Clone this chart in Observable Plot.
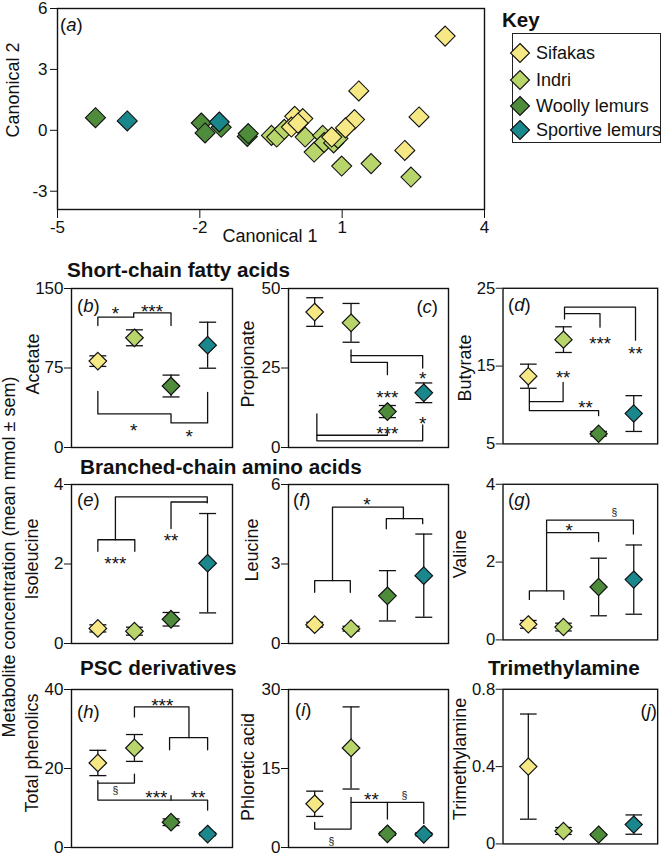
<!DOCTYPE html>
<html>
<head>
<meta charset="utf-8">
<script src="https://cdn.jsdelivr.net/npm/d3@7"></script>
<script src="https://cdn.jsdelivr.net/npm/@observablehq/plot@0.6"></script>
<style>
html,body{margin:0;padding:0;background:#fff;}
#root{position:relative;width:665px;height:854px;overflow:hidden;font-family:"Liberation Sans",Arial,Helvetica,sans-serif;color:#111;}
.t{position:absolute;white-space:nowrap;line-height:1;}
.holder{position:absolute;}
.holder svg{display:block;}
</style>
</head>
<body>
<div id="root"></div>
<script>
// ---------------- DATA ----------------
const species = ["Sifakas", "Indri", "Woolly lemurs", "Sportive lemurs"];
const speciesColors = ["#F7E886", "#B8D56B", "#4E8B3B", "#1A878D"];

// Panel (a): canonical scores [Canonical 1, Canonical 2]
const cdaWoolly = [[-4.20, 0.62], [-1.97, 0.36], [-1.89, -0.13], [-1.55, 0.15], [-1.00, -0.30], [-0.98, -0.16]];
const cdaSportive = [[-3.53, 0.46], [-1.59, 0.41]];
const cdaIndri = [[-0.49, -0.25], [-0.38, -0.33], [-0.22, 0.05], [0.22, -0.33], [0.41, -1.07], [0.59, -0.25],
                  [0.62, -0.60], [0.82, -0.62], [0.91, -0.40], [0.99, -1.76], [1.61, -1.64], [2.45, -2.30]];
const cdaSifakas = [[3.17, 4.64], [1.35, 1.94], [2.62, 0.66], [2.32, -0.99], [1.26, 0.53], [1.07, 0.12],
                    [0.00, 0.69], [-0.07, 0.16], [0.17, 0.58], [0.07, 0.35], [0.78, -0.33]];
const canon1Ticks = [-5, -2, 1, 4];
const canon2Ticks = [-3, 0, 3, 6];

// Metabolites: mean and sem in order Sifakas, Indri, Woolly, Sportive
const acetateMean = [81.5, 103.5, 58, 96.5];      const acetateSem = [5, 7.5, 10.3, 21.7];      const acetateTicks = [0, 75, 150];
const propionateMean = [42.6, 39.2, 11.3, 17.2];  const propionateSem = [4.5, 6.1, 1.9, 3.1];   const propionateTicks = [0, 25, 50];
const butyrateMean = [13.7, 18.4, 6.3, 8.9];      const butyrateSem = [1.55, 1.65, 0.3, 2.3];   const butyrateTicks = [5, 15, 25];
const isoleucineMean = [0.38, 0.31, 0.61, 2.02];  const isoleucineSem = [0.09, 0.1, 0.17, 1.25]; const isoleucineTicks = [0, 2, 4];
const leucineMean = [0.71, 0.56, 1.8, 2.56];      const leucineSem = [0.09, 0.09, 0.95, 1.57];  const leucineTicks = [0, 3, 6];
const valineMean = [0.4, 0.33, 1.36, 1.55];       const valineSem = [0.1, 0.1, 0.74, 0.89];     const valineTicks = [0, 2, 4];
const phenolicsMean = [21.4, 25.2, 6.4, 3.4];     const phenolicsSem = [3.2, 3.4, 0.85, 0.4];   const phenolicsTicks = [0, 20, 40];
const phloreticMean = [8.3, 18.9, 2.6, 2.5];      const phloreticSem = [2.4, 7.8, 0.3, 0.3];    const phloreticTicks = [0, 15, 30];
const tmaMean = [0.40, 0.067, 0.048, 0.10];       const tmaSem = [0.272, 0.018, 0.005, 0.05];   const tmaTicks = [0, 0.4, 0.8];

// Significance brackets: polylines in (group index, value) units, and their labels
const acetateBrackets = [[[0,115],[0,123],[0.98,123]], [[0.98,123],[0.98,127],[2,127],[2,115]],
                         [[0,53],[0,31.7],[2,31.7],[2,23.2],[3,23.2],[3,52]]];
const acetateSig = [[0.48,131,"*"], [1.48,132.6,"***"], [0.98,20.6,"*"], [2.5,14.3,"*"]];
const propionateBrackets = [[[1,30.7],[1,26.8],[2,26.8],[2,22.9]], [[1,28.9],[2.97,28.9],[2.97,25]],
                            [[0.06,10.6],[0.06,2.1],[2.97,2.1],[2.97,7.1]], [[0.06,3.85],[2,3.85],[2,4.7]]];
const propionateSig = [[2,17.2,"***"], [2.97,23.1,"*"], [2,5.7,"***"], [2.97,8.85,"*"]];
const butyrateBrackets = [[[1.03,21.04],[1.03,22.58],[3.05,22.58],[3.05,18.33]], [[1.03,21.75],[2.04,21.75],[2.04,20]],
                          [[0.03,12.08],[0.03,9.29],[2,9.29],[2,8.63]], [[0.03,10.42],[0.99,10.42],[0.99,12.92]]];
const butyrateSig = [[2.04,18.46,"***"], [3.05,17.1,"**"], [0.99,14.04,"**"], [1.63,10.2,"**"]];
const isoleucineBrackets = [[[0,2.32],[0,2.61],[1.01,2.61],[1.01,2.32]], [[0.48,2.61],[0.48,3.69],[2.99,3.69],[2.99,3.54]],
                            [[2,2.89],[2,3.56],[2.99,3.56]]];
const isoleucineSig = [[0.48,2.13,"***"], [2,2.69,"**"]];
const leucineBrackets = [[[0,1.93],[0,2.37],[0.98,2.37],[0.98,1.93]], [[0.49,2.37],[0.49,5.15],[2.44,5.15],[2.44,4.71]],
                         [[1.97,4.33],[1.97,4.71],[2.97,4.71],[2.97,4.52]]];
const leucineSig = [[1.44,5.4,"*"]];
const valineBrackets = [[[0.03,1.04],[0.03,1.26],[1.01,1.26],[1.01,1.04]], [[0.52,1.26],[0.52,3.08],[2.99,3.08],[2.99,2.72]],
                        [[0.52,2.76],[2,2.76],[2,2.53]]];
const valineSig = [[1.16,2.93,"*"], [2.45,3.27,"§"]];
const phenolicsBrackets = [[[1,33.05],[1,35.6],[2.49,35.6],[2.49,27.8]], [[1.96,24.75],[1.96,27.8],[3,27.8],[3,24.75]],
                           [[0,16.9],[0,12],[3,12],[3,9.5]], [[0,16.3],[1,16.3],[1,18.6]], [[2,12],[2,13.1]]];
const phenolicsSig = [[1.76,37,"***"], [0.48,14.4,"§"], [1.6,13.7,"***"], [2.74,13.7,"**"]];
const phloreticBrackets = [[[0,4.77],[0,3.5],[1,3.5],[1,9.5]], [[1,8.58],[3,8.58],[3,4.58]], [[2,8.58],[2,5.4]]];
const phloreticSig = [[1.56,10,"**"], [2.47,9.85,"§"], [0.46,1.27,"§"]];
const tmaBrackets = [];
const tmaSig = [];

// ---------------- DRAWING ----------------
const FONT = '"Liberation Sans", Arial, Helvetica, sans-serif';
const INK = "#111";
const root = document.getElementById("root");

const diamondSym = {draw(ctx, size) { const r = Math.sqrt(size / Math.PI);
  ctx.moveTo(0, -r); ctx.lineTo(r, 0); ctx.lineTo(0, r); ctx.lineTo(-r, 0); ctx.closePath(); }};
const capSym = {draw(ctx, size) { const r = Math.sqrt(size / Math.PI);
  ctx.moveTo(-r, 0); ctx.lineTo(r, 0); }};

function text(html, x, y, opt = {}) {
  const {size = 18, bold = false, anchor = "start", rotate = false, lh = 1} = opt;
  const d = document.createElement("div");
  d.className = "t"; d.innerHTML = html;
  d.style.left = x + "px"; d.style.top = y + "px"; d.style.fontSize = size + "px";
  d.style.lineHeight = String(lh);
  if (bold) d.style.fontWeight = "bold";
  const tx = anchor === "start" ? "0" : anchor === "middle" ? "-50%" : "-100%";
  d.style.transform = rotate ? "translate(-50%,-50%) rotate(-90deg)" : `translate(${tx},-50%)`;
  root.appendChild(d);
}
function place(svg, left, top) {
  const h = document.createElement("div");
  h.className = "holder"; h.style.left = left + "px"; h.style.top = top + "px";
  h.appendChild(svg); root.appendChild(h);
}
const plotStyle = {background: "transparent", overflow: "visible", fontFamily: FONT, fontSize: "17px", color: INK};

// Panel (a)
const groups = [[cdaWoolly, 2], [cdaSportive, 3], [cdaIndri, 1], [cdaSifakas, 0]];
const scatter = groups.flatMap(([arr, k]) => arr.map(([c1, c2]) => ({c1, c2, fill: speciesColors[k]})));
const plotA = Plot.plot({
  width: 490, height: 245, marginLeft: 57, marginRight: 6, marginTop: 8, marginBottom: 36,
  style: plotStyle,
  x: {domain: [-5, 4], ticks: canon1Ticks, tickSize: 9, tickPadding: 2, tickFormat: d => String(d), label: null},
  y: {domain: [-3.9, 6], ticks: canon2Ticks, tickSize: 7, tickPadding: 3, tickFormat: d => String(d), label: null},
  color: {type: "identity"},
  marks: [
    Plot.dot(scatter, {x: "c1", y: "c2", fill: "fill", symbol: diamondSym, r: 10, stroke: INK, strokeWidth: 1.1}),
    Plot.frame({stroke: INK, strokeWidth: 1.4})
  ]
});
place(plotA, 0, 0);
text("(<i>a</i>)", 60, 25, {size: 18.5});
text("Canonical 1", 270, 236, {size: 18, anchor: "middle"});
text("Canonical 2", 12.5, 90, {size: 18, rotate: true});

// Key
const keyBox = document.createElement("div");
keyBox.style.cssText = "position:absolute;left:512px;top:33px;width:149px;height:110px;border:1.5px solid #222;box-sizing:border-box;";
root.appendChild(keyBox);
text("Key", 502, 20, {size: 20.5, bold: true});
const keyRows = [52.5, 79.5, 105.5, 130];
species.forEach((s, i) => {
  const svg = d3.create("svg").attr("width", 24).attr("height", 24)
    .style("position", "absolute").style("left", (519.5 - 12) + "px").style("top", (keyRows[i] - 12) + "px");
  const p = d3.path(); diamondSym.draw(p, Math.PI * 9.5 * 9.5);
  svg.append("path").attr("d", p.toString()).attr("transform", "translate(12,12)")
    .attr("fill", speciesColors[i]).attr("stroke", INK).attr("stroke-width", 1.1);
  root.appendChild(svg.node());
  text(s, 536, keyRows[i], {size: 18});
});

// Metabolite panels
const colX = [[71, 232], [288, 448], [504, 662]];
const rowY = [[288, 447], [484, 643], [689, 847]];
const panels = [
  {tag: "b", col: 0, row: 0, mean: acetateMean, sem: acetateSem, ticks: acetateTicks, brackets: acetateBrackets, sig: acetateSig, label: "Acetate", lx: 33, ly: 364, tx: 77, ty: 306},
  {tag: "c", col: 1, row: 0, mean: propionateMean, sem: propionateSem, ticks: propionateTicks, brackets: propionateBrackets, sig: propionateSig, label: "Propionate", lx: 248, ly: 364, tx: 438, ty: 307, right: true},
  {tag: "d", col: 2, row: 0, mean: butyrateMean, sem: butyrateSem, ticks: butyrateTicks, brackets: butyrateBrackets, sig: butyrateSig, label: "Butyrate", lx: 465, ly: 368, tx: 508, ty: 305},
  {tag: "e", col: 0, row: 1, mean: isoleucineMean, sem: isoleucineSem, ticks: isoleucineTicks, brackets: isoleucineBrackets, sig: isoleucineSig, label: "Isoleucine", lx: 32, ly: 559, tx: 77, ty: 500},
  {tag: "f", col: 1, row: 1, mean: leucineMean, sem: leucineSem, ticks: leucineTicks, brackets: leucineBrackets, sig: leucineSig, label: "Leucine", lx: 252, ly: 550, tx: 293, ty: 500},
  {tag: "g", col: 2, row: 1, mean: valineMean, sem: valineSem, ticks: valineTicks, brackets: valineBrackets, sig: valineSig, label: "Valine", lx: 460, ly: 554, tx: 508, ty: 500},
  {tag: "h", col: 0, row: 2, mean: phenolicsMean, sem: phenolicsSem, ticks: phenolicsTicks, brackets: phenolicsBrackets, sig: phenolicsSig, label: "Total phenolics", lx: 32, ly: 753, tx: 77, ty: 712},
  {tag: "i", col: 1, row: 2, mean: phloreticMean, sem: phloreticSem, ticks: phloreticTicks, brackets: phloreticBrackets, sig: phloreticSig, label: "Phloretic acid", lx: 248, ly: 767, tx: 295, ty: 710},
  {tag: "j", col: 2, row: 2, mean: tmaMean, sem: tmaSem, ticks: tmaTicks, brackets: tmaBrackets, sig: tmaSig, label: "Trimethylamine", lx: 460, ly: 759, tx: 657, ty: 711, right: true}
];

panels.forEach(p => {
  const [x0, x1] = colX[p.col], [y0, y1] = rowY[p.row];
  const mL = 70, mR = 8, mT = 10, mB = 10;
  const rows = p.mean.map((m, i) => ({i, m, lo: m - p.sem[i], hi: m + p.sem[i], fill: speciesColors[i]}));
  const lines = p.brackets.flatMap((pts, k) => pts.map(([x, y]) => ({k, x, y})));
  const stars = p.sig.filter(s => s[2] !== "§").map(([x, y, t]) => ({x, y, t}));
  const sects = p.sig.filter(s => s[2] === "§").map(([x, y, t]) => ({x, y, t}));
  const svg = Plot.plot({
    width: (x1 - x0) + mL + mR, height: (y1 - y0) + mT + mB,
    marginLeft: mL, marginRight: mR, marginTop: mT, marginBottom: mB,
    style: plotStyle,
    x: {domain: [-0.72, 3.68], axis: null},
    y: {domain: [p.ticks[0], p.ticks[p.ticks.length - 1]], ticks: p.ticks, tickSize: 7, tickPadding: 1, tickFormat: d => String(d), label: null},
    color: {type: "identity"},
    marks: [
      Plot.line(lines, {x: "x", y: "y", z: "k", stroke: INK, strokeWidth: 1.3}),
      Plot.ruleX(rows, {x: "i", y1: "lo", y2: "hi", stroke: INK, strokeWidth: 1.3}),
      Plot.dot(rows, {x: "i", y: "lo", symbol: capSym, r: 8.5, fill: "none", stroke: INK, strokeWidth: 1.3}),
      Plot.dot(rows, {x: "i", y: "hi", symbol: capSym, r: 8.5, fill: "none", stroke: INK, strokeWidth: 1.3}),
      Plot.dot(rows, {x: "i", y: "m", symbol: diamondSym, r: 8.8, fill: "fill", stroke: INK, strokeWidth: 1.2}),
      Plot.text(stars, {x: "x", y: "y", text: "t", fontSize: 19, dy: 4.8, fill: INK}),
      Plot.text(sects, {x: "x", y: "y", text: "t", fontSize: 10.5, dy: 0.5, fill: INK}),
      Plot.frame({stroke: INK, strokeWidth: 1.4})
    ]
  });
  place(svg, x0 - mL, y0 - mT);
  text(p.label, p.lx, p.ly, {size: 18, rotate: true});
  text(`(<i>${p.tag}</i>)`, p.tx, p.ty, {size: 18.5, anchor: p.right ? "end" : "start"});
});

// Section titles and shared axis title
text("Short-chain fatty acids", 67, 269.5, {size: 20.7, bold: true, lh: 0.8});
text("Branched-chain amino acids", 80, 467, {size: 20.7, bold: true, lh: 0.8});
text("PSC derivatives", 80, 668, {size: 20.7, bold: true, lh: 0.8});
text("Trimethylamine", 488, 668, {size: 20.7, bold: true, lh: 0.8});
text("Metabolite concentration (mean mmol ± sem)", 9, 557, {size: 18, rotate: true});
</script>
</body>
</html>
